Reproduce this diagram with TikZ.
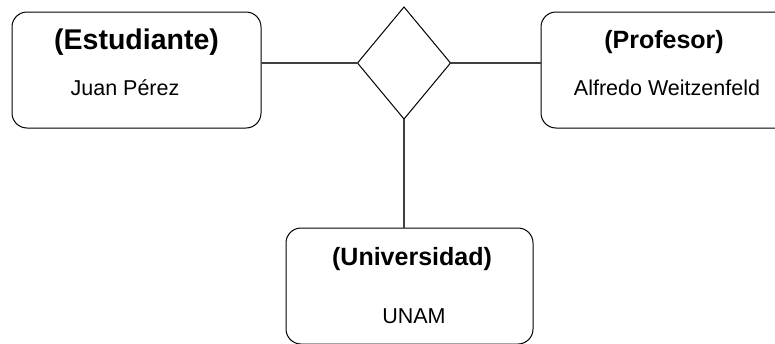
\documentclass[tikz,border=0pt]{standalone}
\usepackage{fontspec}
\setmainfont{Liberation Sans}
\usepackage{tikz}
\usetikzlibrary{shapes.geometric}
\usetikzlibrary{positioning}
\tikzset{entidad/.style = {draw, rounded corners = 15, line width = 1, inner sep = 0, outer sep = 0}}
\tikzset{relacion/.style = {draw, diamond, line width = 1, inner sep = 0, outer sep = 0, minimum width = 93, minimum height = 112}}
\tikzset{enlace/.style = {line width = 1.3, mgris}}
\tikzset{titulo/.style = {font = \bfseries\fontsize{25}{30}\selectfont, inner sep = 0, anchor = base}}
\tikzset{dato/.style = {font = \fontsize{21.5}{26}\selectfont, inner sep = 0, anchor = base}}
\definecolor{mgris}{rgb}{0.25, 0.25, 0.25}

\begin{document}
\begin{tikzpicture}[x = 1pt, y = -1pt]
      \useasboundingbox (0, 0) rectangle (775, 343);
      \clip (0, 0) rectangle (775, 343);

      \node [entidad, minimum width = 249, minimum height = 116] (estudiante) at (136.5, 70) {};
      \node [entidad, minimum width = 249, minimum height = 116] (profesor) at (665.5, 70) {};
      \node [entidad, minimum width = 247, minimum height = 116] (universidad) at (409.5, 286) {};
      \node [relacion] (cursa) at (404, 63) {};

      \node [titulo, font = \bfseries\fontsize{28.5}{34}\selectfont] (tEstudiante) at (136.5, 49) {(Estudiante)};
      \node [dato] (nEstudiante) at (125, 95) {Juan Pérez};
      \node [titulo] (tProfesor) at (664, 48) {(Profesor)};
      \node [dato] (nProfesor) at (667, 95) {Alfredo Weitzenfeld};
      \node [titulo] (tUniversidad) at (412, 265) {(Universidad)};
      \node [dato] (nUniversidad) at (414, 323) {UNAM};

      \draw [enlace] (cursa.west) -- (cursa.west -| estudiante.east);
      \draw [enlace] (cursa.east) -- (cursa.east -| profesor.west);
      \draw [enlace] (cursa.south) -- (cursa.south |- universidad.north);
    \end{tikzpicture}
\end{document}
